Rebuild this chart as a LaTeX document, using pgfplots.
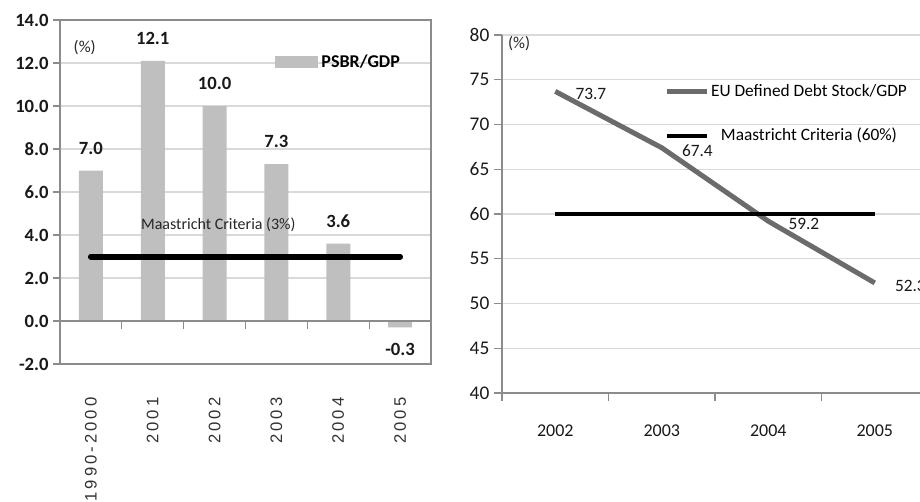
\documentclass[border=0pt]{standalone}
\usepackage{fontspec}
\setmainfont{Carlito}
\newfontfamily\spaced[LetterSpace=18]{Liberation Sans}
\usepackage{pgfplots}
\pgfplotsset{compat=1.18}
\definecolor{barg}{HTML}{BFBFBF}
\definecolor{gridg}{HTML}{D9D9D9}
\definecolor{axg}{HTML}{8C8C8C}
\definecolor{lineg}{HTML}{6B6B6B}
\begin{document}
\begin{tikzpicture}
\useasboundingbox (0,0) rectangle (690pt,375.75pt);
% ---------------- left panel ----------------
\begin{axis}[
  at={(45pt,102.75pt)}, anchor=south west,
  width=278.25pt, height=258pt, scale only axis,
  xmin=-0.5, xmax=5.5, ymin=-2, ymax=14,
  ytick={-2,0,...,14},
  xtick={0,...,5},
  xticklabels={1990-2000,2001,2002,2003,2004,2005},
  xtick style={draw=none},
  xticklabel style={rotate=90, anchor=east, inner sep=0pt, font=\spaced\fontsize{12.5}{12.5}\selectfont, text=black!80},
  xticklabel shift=20pt,
  ymajorgrids, grid style={gridg, line width=0.8pt},
  axis line style={axg, line width=0.8pt},
  ytick pos=left, tick align=outside, major tick length=5pt,
  ytick style={axg, line width=0.8pt},
  yticklabel style={font=\fontsize{14}{14}\selectfont\bfseries, text=black!90, /pgf/number format/.cd, fixed, fixed zerofill, precision=1, assume math mode=true},
  clip=false,
  legend style={at={(axis description cs:0.58,0.878)}, anchor=west, draw=none, fill=none,
    font=\fontsize{13.5}{13.5}\selectfont\bfseries, inner sep=0pt, nodes={inner xsep=2.5pt, inner ysep=1pt}},
]
\addplot[ybar, bar width=18pt, fill=barg, draw=none,
  legend image code/.code={\fill[barg] (0pt,-4.5pt) rectangle (32pt,4.5pt);},
  nodes near coords,
  every node near coord/.append style={font=\fontsize{14}{14}\selectfont\bfseries, text=black!90, inner ysep=12pt,
    /pgf/number format/.cd, fixed, fixed zerofill, precision=1, assume math mode=true}]
  coordinates {(0,7.0) (1,12.1) (2,10.0) (3,7.3) (4,3.6) (5,-0.3)};
\addlegendentry{PSBR/GDP}
\draw[axg, line width=0.8pt] (axis cs:-0.5,0) -- (axis cs:5.5,0);
\pgfplotsinvokeforeach{0.5,1.5,2.5,3.5,4.5,5.5}{\draw[axg, line width=0.8pt] (axis cs:#1,0) -- ++(0pt,-6pt);}
\addplot[black, line width=4.5pt, line cap=round, forget plot] coordinates {(0,3) (5,3)};
\node[font=\fontsize{12}{12}\selectfont, text=black!85] at (axis cs:2.06,4.47) {Maastricht Criteria (3\%)};
\node[font=\fontsize{12.5}{12.5}\selectfont, text=black!85] at (axis cs:-0.1,12.74) {(\%)};
\end{axis}
% ---------------- right panel ----------------
\begin{axis}[
  at={(376.5pt,81pt)}, anchor=south west,
  width=319.5pt, height=268.5pt, scale only axis,
  xmin=-0.5, xmax=3.5, ymin=40, ymax=80,
  ytick={40,45,...,80},
  xtick={-0.5,0.5,1.5,2.5,3.5}, xticklabels={},
  extra x ticks={0,1,2,3}, extra x tick labels={2002,2003,2004,2005},
  extra x tick style={major tick length=0pt, grid=none},
  axis x line*=bottom, axis y line*=left,
  axis line style={axg, line width=1pt, -},
  tick align=outside, major tick length=6pt, tick style={axg, line width=1pt},
  ymajorgrids, grid style={gridg, line width=0.8pt},
  yticklabel style={font=\fontsize{14.5}{14.5}\selectfont, text=black!90, /pgf/number format/assume math mode=true},
  xticklabel style={font=\fontsize{13.5}{13.5}\selectfont, text=black!90, yshift=-20pt},
  clip=false,
  legend style={at={(axis description cs:0.372,0.780)}, anchor=west, draw=none, fill=none,
    row sep=20pt, font=\fontsize{13}{13}\selectfont,
    nodes={inner xsep=1pt, inner ysep=0pt, text height=10pt, text depth=3pt}},
  legend image code/.code={\draw[#1] (0pt,0pt) -- (30pt,0pt);},
]
\addplot[lineg, line width=3.75pt,
  nodes near coords,
  every node near coord/.append style={anchor=west, xshift=10pt, yshift=-2pt, text=black!90,
    font=\fontsize{13}{13}\selectfont,
    /pgf/number format/.cd, fixed, fixed zerofill, precision=1, assume math mode=true}]
  coordinates {(0,73.7) (1,67.4) (2,59.2) (3,52.3)};
\addlegendentry{EU Defined Debt Stock/GDP}
\addplot[black, line width=3pt] coordinates {(0,60) (3,60)};
\addlegendentry{Maastricht Criteria (60\%)}
\node[font=\fontsize{12.5}{12.5}\selectfont, text=black!85] at (axis cs:-0.34,79.0) {(\%)};
\end{axis}
\end{tikzpicture}
\end{document}
